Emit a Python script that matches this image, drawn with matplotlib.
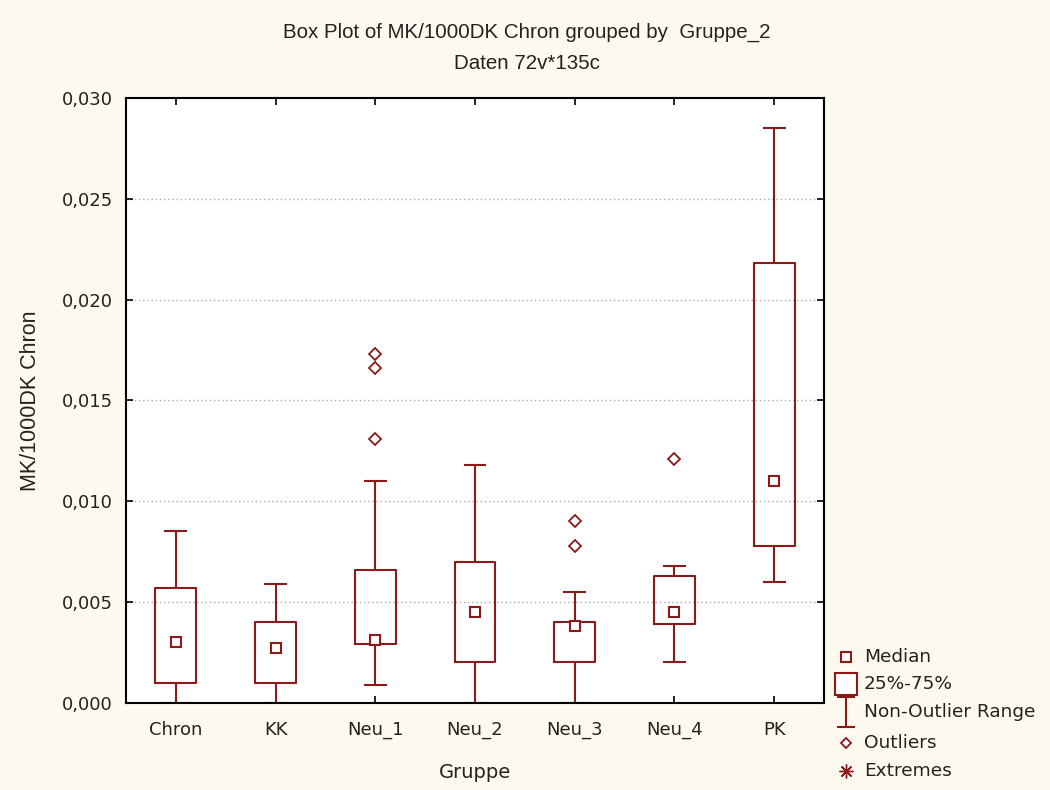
import matplotlib
matplotlib.use("Agg")
import matplotlib.pyplot as plt
from matplotlib.lines import Line2D
from matplotlib.path import Path
from matplotlib.ticker import FuncFormatter, MultipleLocator

groups = ["Chron", "KK", "Neu_1", "Neu_2", "Neu_3", "Neu_4", "PK"]
medians = [0.0030, 0.0027, 0.0031, 0.0045, 0.0038, 0.0045, 0.0110]
q1 = [0.0010, 0.0010, 0.0029, 0.0020, 0.0020, 0.0039, 0.0078]
q3 = [0.0057, 0.0040, 0.0066, 0.0070, 0.0040, 0.0063, 0.0218]
whisk_lo = [0.0, 0.0, 0.0009, 0.0, 0.0, 0.0020, 0.0060]
whisk_hi = [0.0085, 0.0059, 0.0110, 0.0118, 0.0055, 0.0068, 0.0285]
outliers = [[], [], [0.0131, 0.0166, 0.0173], [], [0.0078, 0.0090], [0.0121], []]
legend_labels = ["Median", "25%-75%", "Non-Outlier Range", "Outliers", "Extremes"]

RED = "#8B1A1A"
BG = "#FDF9EF"
TICKFONT = "DejaVu Sans"
LABFONT = "Liberation Sans"

fig = plt.figure(figsize=(10.5, 7.9), dpi=100, facecolor=BG)
ax = fig.add_axes([0.12, 0.1105, 0.6648, 0.7651])
ax.set_facecolor("white")

stats = []
for i, g in enumerate(groups):
    stats.append(dict(label=g, med=medians[i], q1=q1[i], q3=q3[i],
                      whislo=whisk_lo[i], whishi=whisk_hi[i],
                      fliers=outliers[i], mean=medians[i]))

ax.bxp(stats, positions=range(len(groups)), widths=0.41, showmeans=True,
       patch_artist=False, manage_ticks=False,
       boxprops=dict(color=RED, linewidth=1.5),
       whiskerprops=dict(color=RED, linewidth=1.5),
       capprops=dict(color=RED, linewidth=1.5),
       capwidths=0.21,
       medianprops=dict(linewidth=0),
       meanprops=dict(marker="s", markersize=7.5, markerfacecolor="white",
                      markeredgecolor=RED, markeredgewidth=1.5),
       flierprops=dict(marker="D", markersize=6, markerfacecolor="white",
                       markeredgecolor=RED, markeredgewidth=1.3))

ax.set_xlim(-0.5, len(groups) - 0.5)
ax.set_ylim(0.0, 0.030)
ax.set_xticks(range(len(groups)))
ax.set_xticklabels(groups)
ax.yaxis.set_major_locator(MultipleLocator(0.005))
ax.yaxis.set_major_formatter(FuncFormatter(lambda v, p: f"{v:.3f}".replace(".", ",")))
ax.tick_params(axis="both", direction="in", length=5, width=1.2,
               top=True, right=True, labelsize=13, colors="black")
ax.tick_params(axis="x", pad=13)
ax.tick_params(axis="y", pad=9.5)
for lab in ax.get_xticklabels() + ax.get_yticklabels():
    lab.set_family(TICKFONT)
    lab.set_color("#222222")
for s in ax.spines.values():
    s.set_linewidth(1.5)
    s.set_color("black")

for v in [0.005, 0.010, 0.015, 0.020, 0.025]:
    ax.axhline(v, color="#AAAAAA", linestyle=(0, (1, 2)), linewidth=1.0, zorder=0)

ax.set_xlabel("Gruppe", fontsize=14, family=TICKFONT, labelpad=17.5, color="#222222")
ax.set_ylabel("MK/1000DK Chron", fontsize=15.5, family=LABFONT, labelpad=14.5, color="#222222")

fig.text(0.502, 0.9595, "Box Plot of MK/1000DK Chron grouped by  Gruppe_2",
         ha="center", va="center", fontsize=14.8, family=LABFONT, color="#222222")
fig.text(0.502, 0.920, "Daten 72v*135c", ha="center", va="center",
         fontsize=14.8, family=LABFONT, color="#222222")

# legend drawn in figure pixel coordinates
def fx(px):
    return px / 1050.0

def fy(py):
    return 1.0 - py / 790.0

ivert = Path([(-0.65, 1), (0.65, 1), (0, 1), (0, -1), (-0.65, -1), (0.65, -1)],
             [Path.MOVETO, Path.LINETO, Path.MOVETO, Path.LINETO, Path.MOVETO, Path.LINETO])
leg_y = [657, 684, 712, 743, 771]
leg_markers = [
    dict(marker="s", markersize=7, markerfacecolor="white", markeredgecolor=RED, markeredgewidth=1.5),
    dict(marker="s", markersize=16, markerfacecolor="white", markeredgecolor=RED, markeredgewidth=1.5),
    dict(marker=ivert, markersize=21, markerfacecolor="none", markeredgecolor=RED, markeredgewidth=1.5),
    dict(marker="D", markersize=5.5, markerfacecolor="white", markeredgecolor=RED, markeredgewidth=1.3),
    dict(marker=(8, 2, 0), markersize=10, markeredgecolor=RED, markeredgewidth=1.0),
]
for lbl, yy, mk in zip(legend_labels, leg_y, leg_markers):
    fig.add_artist(Line2D([fx(846)], [fy(yy)], transform=fig.transFigure,
                          linestyle="none", **mk))
    fig.text(fx(864), fy(yy), lbl, ha="left", va="center", fontsize=13.3,
             family=TICKFONT, color="#222222")

fig.savefig("out.png", dpi=100, facecolor=BG)
